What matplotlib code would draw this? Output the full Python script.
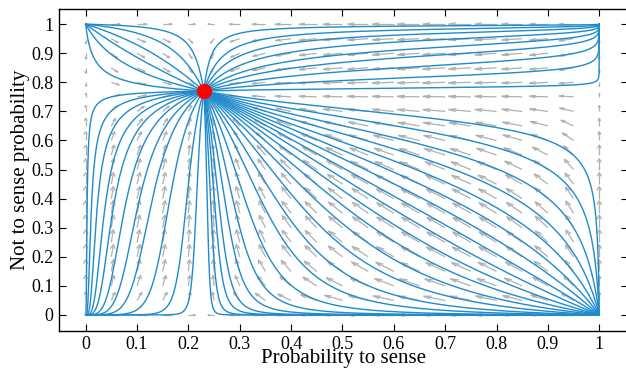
import numpy as np
import matplotlib
matplotlib.use("Agg")
import matplotlib.pyplot as plt
from matplotlib.collections import LineCollection

# Stable mixed point and model parameters
p_sense = 0.23
q_not = 0.77

# where the trajectories cross a reference line
# basin of (1,0): crossings of y = 0.3
lr_x = [0.238, 0.246, 0.255, 0.265, 0.28, 0.30, 0.33, 0.37, 0.41, 0.46, 0.51,
        0.56, 0.61, 0.66, 0.71, 0.76, 0.81, 0.86, 0.91, 0.95, 0.98, 0.995]
lr_y = 0.3
# basin of (0,0): crossings of y = 0.4
ll_x = [0.003, 0.012, 0.024, 0.04, 0.057, 0.08, 0.105, 0.13, 0.164, 0.197, 0.216]
ll_y = 0.4
# basin of (1,1): crossings of x = 0.6
ur_y = [0.993, 0.979, 0.962, 0.938, 0.91, 0.883, 0.849, 0.814, 0.78]
ur_x = 0.6
# basin of (0,1): crossings of y = 0.9
ul_x = [0.012, 0.047, 0.086, 0.13, 0.177, 0.21]
ul_y = 0.9

grid_step = 0.05
ticks = np.arange(0, 1.01, 0.1)
tick_labels = ['0', '0.1', '0.2', '0.3', '0.4', '0.5', '0.6', '0.7', '0.8', '0.9', '1']

line_col = '#1f8bcc'
arrow_col = '#b0b0b0'


def field(x, y):
    dx = x * (1 - x) * (p_sense - x)
    dy = y * (1 - y) * (q_not - y)
    return dx, dy


def integrate(x, y, sgn, dt=0.05, n=3000):
    x = np.array(x, float); y = np.array(y, float)
    xs, ys = [x.copy()], [y.copy()]
    h = sgn * dt
    for i in range(n):
        k1 = field(x, y)
        k2 = field(x + 0.5*h*k1[0], y + 0.5*h*k1[1])
        k3 = field(x + 0.5*h*k2[0], y + 0.5*h*k2[1])
        k4 = field(x + h*k3[0], y + h*k3[1])
        x = x + h/6*(k1[0] + 2*k2[0] + 2*k3[0] + k4[0])
        y = y + h/6*(k1[1] + 2*k2[1] + 2*k3[1] + k4[1])
        xs.append(x.copy()); ys.append(y.copy())
    return np.array(xs), np.array(ys)


fig = plt.figure(figsize=(6.26, 3.68), dpi=100)
ax = fig.add_axes([0.0942, 0.1014, 0.909, 0.874])

# quiver, drawn as open matlab-like arrows
g = np.arange(0, 1 + 1e-9, grid_step)
X, Y = np.meshgrid(g, g)
U, V = field(X, Y)
M = np.hypot(U, V)
Lmax = 0.05
segs = []
for xi, yi, u, v, m in zip(X.ravel(), Y.ravel(), U.ravel(), V.ravel(), M.ravel()):
    if m < 1e-9:
        continue
    L = Lmax * (m / M.max()) ** 0.4
    du, dv = u / m * L, v / m * L
    a, b = 0.33, 0.33
    tx, ty = xi + du, yi + dv
    segs.append([(xi, yi), (tx, ty)])
    segs.append([(tx - a*(du + b*dv), ty - a*(dv - b*du)), (tx, ty),
                 (tx - a*(du - b*dv), ty - a*(dv + b*du))])
ax.add_collection(LineCollection(segs, colors=arrow_col, linewidths=0.9))

# trajectories: seed points integrated forward (to the node) and backward (to a corner)
sx = np.r_[lr_x, ll_x, [ur_x] * len(ur_y), ul_x]
sy = np.r_[[lr_y] * len(lr_x), [ll_y] * len(ll_x), ur_y, [ul_y] * len(ul_x)]
fx, fy = integrate(sx, sy, +1)
bx, by = integrate(sx, sy, -1)
for k in range(len(sx)):
    px = np.r_[bx[::-1, k], fx[1:, k]]
    py = np.r_[by[::-1, k], fy[1:, k]]
    ax.plot(px, py, color=line_col, lw=1.0)

ax.plot(p_sense, q_not, 'o', color='red', ms=10, zorder=5)

ax.set_xlim(-0.052, 1.056)
ax.set_ylim(-0.054, 1.052)
ax.set_xticks(ticks)
ax.set_xticklabels(tick_labels)
ax.set_yticks(ticks)
ax.set_yticklabels(tick_labels)
ax.tick_params(direction='in', length=5, width=0.8, top=True, right=True,
               labelsize=13, pad=4)
for lab in ax.get_xticklabels() + ax.get_yticklabels():
    lab.set_family('Liberation Serif')
for s in ax.spines.values():
    s.set_linewidth(1.0)
ax.set_xlabel('Probability to sense', fontsize=15, family='Liberation Serif', labelpad=-3)
ax.set_ylabel('Not to sense probability', fontsize=15, family='Liberation Serif', labelpad=1)

fig.savefig('out.png', dpi=100)
